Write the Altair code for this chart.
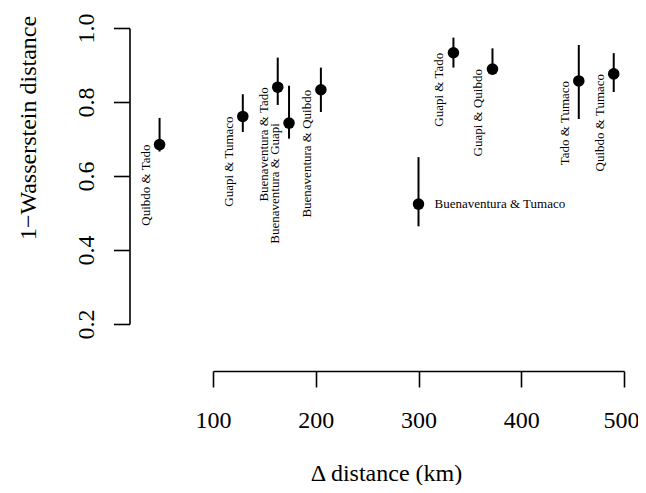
import altair as alt
import pandas as pd

pairs = ["Quibdo & Tado", "Guapi & Tumaco", "Buenaventura & Tado", "Buenaventura & Guapi",
         "Buenaventura & Quibdo", "Buenaventura & Tumaco", "Guapi & Tado", "Guapi & Quibdo",
         "Tado & Tumaco", "Quibdo & Tumaco"]
dist_km = [48, 129, 163, 174, 205, 300, 334, 372, 456, 490]
w_sim = [0.685, 0.761, 0.840, 0.743, 0.833, 0.524, 0.933, 0.889, 0.857, 0.876]
w_low = [0.666, 0.719, 0.792, 0.701, 0.773, 0.464, 0.893, 0.873, 0.754, 0.827]
w_high = [0.757, 0.821, 0.920, 0.844, 0.893, 0.651, 0.974, 0.945, 0.954, 0.932]
label_side = ["left", "left", "left", "left", "left", "right", "left", "left", "left", "left"]

x_ticks = [100, 200, 300, 400, 500]
y_ticks = [0.2, 0.4, 0.6, 0.8, 1.0]

df = pd.DataFrame({"pair": pairs, "dist": dist_km, "w": w_sim, "lo": w_low,
                   "hi": w_high, "side": label_side})

FONT = "Liberation Serif"

xs = alt.Scale(domain=[100, 500], nice=False, zero=False)
ys = alt.Scale(domain=[0.2, 1.0], nice=False, zero=False)

base = alt.Chart(df)

bars = base.mark_rule(color="black", strokeWidth=2).encode(
    x=alt.X("dist:Q", scale=xs,
            axis=alt.Axis(values=x_ticks, title="Δ distance (km)", grid=False,
                          offset=47, tickSize=16, tickWidth=1.6, domainWidth=1.6,
                          domainColor="black", tickColor="black",
                          labelFont=FONT, labelFontSize=24, labelColor="black",
                          labelBaseline="alphabetic", labelPadding=40,
                          labelAlign={"condition": {"test": "datum.value == 500", "value": "right"},
                                      "value": "center"},
                          labelOffset={"condition": {"test": "datum.value == 500", "value": 15},
                                       "value": 0},
                          labelFlush=False, labelOverlap=False, format="d",
                          titleFont=FONT, titleFontSize=24, titleFontWeight="normal",
                          titleColor="black", titleX=173, titleY=109,
                          titleAnchor="middle", titleAlign="center",
                          titleBaseline="alphabetic")),
    y=alt.Y("lo:Q", scale=ys,
            axis=alt.Axis(values=y_ticks, title="1−Wasserstein distance", grid=False,
                          offset=83.5, tickSize=16, tickWidth=1.6, domainWidth=1.6,
                          domainColor="black", tickColor="black",
                          labelFont=FONT, labelFontSize=24, labelColor="black",
                          labelAngle=270, labelAlign="center",
                          labelBaseline="alphabetic", labelPadding=20,
                          labelFlush=False, labelOverlap=False, format=".1f",
                          titleFont=FONT, titleFontSize=24, titleFontWeight="normal",
                          titleColor="black", titleX=-94.5, titleY=99.5,
                          titleAngle=270, titleAlign="center",
                          titleBaseline="alphabetic")),
    y2="hi:Q",
)

points = base.mark_circle(color="black", opacity=1, size=133).encode(
    x=alt.X("dist:Q", scale=xs),
    y=alt.Y("w:Q", scale=ys),
)

labels_rot = base.transform_filter(alt.datum.side == "left").mark_text(
    font=FONT, fontSize=13, color="black", angle=270, align="right",
    baseline="middle", dy=-14,
).encode(
    x=alt.X("dist:Q", scale=xs),
    y=alt.Y("w:Q", scale=ys),
    text="pair:N",
)

labels_h = base.transform_filter(alt.datum.side == "right").mark_text(
    font=FONT, fontSize=13, color="black", align="left", baseline="middle", dx=16,
).encode(
    x=alt.X("dist:Q", scale=xs),
    y=alt.Y("w:Q", scale=ys),
    text="pair:N",
)

chart = alt.layer(bars, points, labels_rot, labels_h).properties(
    width=411, height=296,
    autosize=alt.AutoSizeParams(type="none"),
    padding={"left": 205, "top": 20, "right": 14, "bottom": 161},
    background="white",
).configure_view(stroke=None)

chart.save("out.html", embed_options={"renderer": "svg", "actions": False})
